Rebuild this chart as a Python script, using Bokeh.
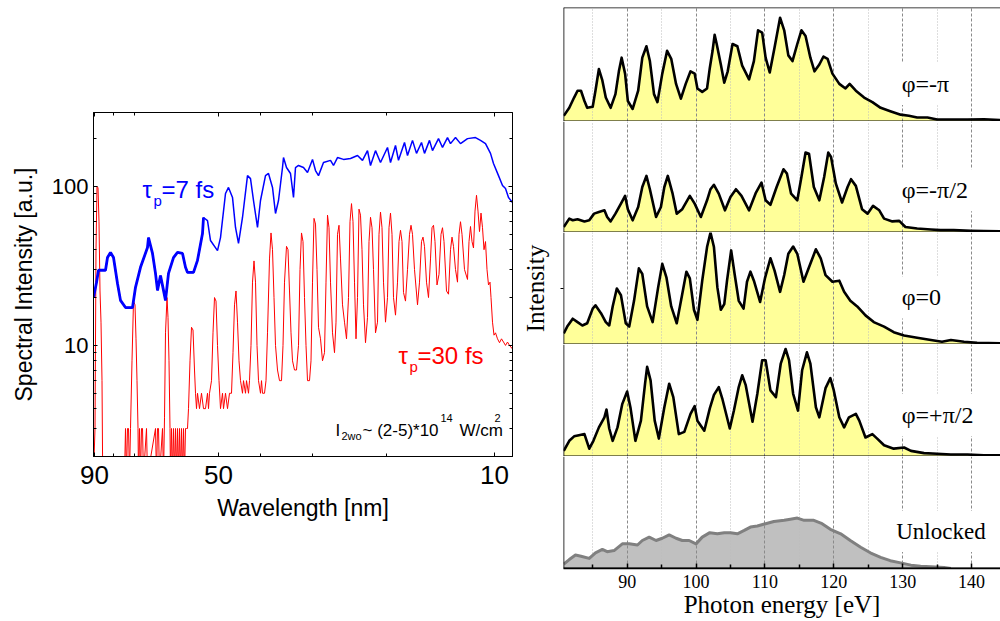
from bokeh.plotting import figure
from bokeh.layouts import row, column
from bokeh.models import Label, FixedTicker, LinearAxis, LogAxis, Range1d, Grid, Span
from bokeh.embed import file_html
from bokeh.resources import INLINE

# ---------------- left panel: harmonic spectra (spectrometer channel axis) ----------------
blue_ch = [0, 3, 5, 12, 14, 17, 20, 24, 27, 32,
           39, 42, 47, 54, 55, 59, 62, 64, 67, 70,
           72, 75, 80, 84, 89, 92, 94, 100, 104, 109,
           110, 114, 117, 124, 127, 132, 135, 139, 142, 145,
           149, 154, 157, 160, 164, 167, 172, 175, 179, 182,
           185, 189, 190, 193, 197, 200, 202, 205, 210, 214,
           219, 222, 225, 230, 237, 240, 244, 250, 257, 264,
           269, 274, 277, 282, 287, 294, 297, 302, 305, 311,
           314, 319, 323, 328, 331, 336, 339, 345, 349, 354,
           357, 362, 367, 374, 382, 387, 392, 397, 400, 405,
           409, 412, 415, 419]
blue_val = [20, 24.9, 29.7, 29.7, 35.7, 38.5, 35.7, 24.5, 19.2, 17.3,
            17.3, 23.2, 31, 41.3, 47.7, 37.9, 28.4, 22.2, 27.5, 22.2,
            19.2, 28.4, 35.7, 38.5, 37.9, 31, 28.8, 28.8, 34.3, 50.6,
            63.8, 61, 45.7, 39.5, 47.7, 90.3, 98.6, 85.3, 55.2, 43.8,
            63.8, 117, 112, 81.6, 55.2, 81.6, 117, 120.7, 98.6, 67.6,
            81.6, 131.6, 152, 131.6, 120.7, 85.3, 131.6, 135.5, 131.6, 122.5,
            148, 126, 117, 141.5, 146, 135.5, 152, 148, 150, 156.7,
            146, 168, 135.5, 168, 141.5, 176, 141.5, 181, 146, 189,
            156.7, 195, 161.5, 189, 161.5, 195, 168, 200, 176, 203,
            186, 203, 186, 200, 203, 195, 186, 161.5, 139.6, 117,
            101.5, 97, 85.3, 79.3]

red_ch = [0, 1.5, 2.5, 3.5, 4.5, 5.5, 6.5, 7.5, 8.5, 9.2,
          31, 32, 33, 34, 35, 36, 37, 38.5, 40, 41.5,
          42.5, 43.5, 44.5, 45, 46, 47, 48, 49, 50, 53,
          54, 62, 63, 64, 65, 66, 69, 70, 71, 72,
          73.5, 74.5, 75.5, 76.5, 77, 78, 79, 80, 81, 82,
          83, 84, 85, 86, 87, 88, 89, 90, 91, 92,
          93, 94, 95, 96.5, 98, 99.5, 101, 102, 103, 104,
          106, 108, 110, 112, 114, 115, 116, 118, 119.5, 121,
          122.5, 124, 125.5, 127, 129, 130, 132, 134, 136, 138,
          139.5, 141, 142.5, 144, 145.5, 147, 149, 150, 152, 153,
          155, 156, 157.5, 159, 160.5, 162, 163.5, 165, 167, 168,
          169, 171, 172.5, 174, 176, 177.5, 179, 180.5, 182, 184,
          186, 188, 189.5, 191, 193, 194.5, 196, 197.5, 199, 201,
          203, 205, 206.5, 208, 209.5, 211, 212.5, 214, 216, 217.5,
          219, 220.5, 222, 223.5, 225, 227, 229, 231, 232.5, 234,
          235.5, 237, 239, 241, 242.5, 244, 245.5, 247, 249, 251,
          253, 255, 256.5, 258, 259.5, 261, 262.5, 264, 265.5, 267,
          268.5, 270, 272, 274, 275.5, 277, 278.5, 280, 282, 284,
          285.5, 287, 288.5, 290, 292, 294, 295.5, 297, 298.5, 300,
          302, 304, 305.5, 307, 308.5, 310, 312, 314, 316, 317.5,
          319, 321, 324, 326, 328, 329.5, 331, 333, 335, 337,
          338.5, 340, 341.5, 343.5, 345.5, 347.5, 349, 350.5, 353, 355,
          357, 358.5, 360, 362, 364, 365.5, 367, 368.5, 371, 374,
          375.5, 377, 378.5, 380, 381.5, 383, 384.5, 386, 387.5, 389,
          390.5, 392, 393.5, 395, 396.5, 397.5, 399, 400.5, 402, 404,
          406, 408, 410, 412, 414, 416, 419]
red_val = [1.5, 3.0, 40, 100, 98, 60, 22, 14, 6, 1.5,
           1.5, 3, 1.5, 3, 3, 1.5, 3, 8, 19, 18,
           11, 6, 3, 1.5, 3, 1.5, 3, 3, 1.5, 3,
           1.5, 3, 1.5, 3, 3, 1.5, 3, 1.5, 3.5, 12,
           20, 15, 8, 3, 1.5, 3, 1.5, 3, 1.5, 3,
           1.5, 3, 1.5, 3, 1.5, 3, 1.5, 3, 1.5, 3,
           3, 3, 4, 8, 13, 12.5, 7, 5, 4, 5,
           4, 5, 4, 4, 5, 4, 5, 6, 12, 20,
           19, 10, 6, 4, 5, 4, 5, 4, 5, 5,
           9, 18, 22, 14, 8, 6, 5, 6, 5, 6,
           5, 6, 10, 25, 34, 25, 10, 6, 5, 6,
           5, 5, 6, 12, 35, 51, 40, 20, 10, 7,
           6, 6, 10, 25, 42, 40, 22, 12, 8, 7,
           7, 10, 30, 51, 45, 20, 10, 6, 6, 8,
           25, 63, 58, 30, 13, 11, 8, 9, 25, 66,
           55, 25, 12, 9, 14, 50, 57, 35, 18, 14,
           11, 20, 60, 78, 60, 25, 11, 20, 72, 66,
           40, 18, 10.4, 15, 45, 64, 55, 30, 12, 14,
           50, 69, 55, 25, 14, 20, 55, 68, 50, 20,
           15.5, 25, 45, 53, 45, 21.5, 19, 30, 50, 57,
           50, 30, 18, 25, 45, 48, 42, 25, 20, 35,
           55, 57, 45, 24, 28, 50, 55, 45, 22, 21,
           40, 48, 42, 30, 25, 50, 60, 50, 30, 26,
           45, 56, 45, 41, 70, 88, 70, 52, 68, 55,
           40, 45, 30, 24, 25, 20, 14, 11.6, 12, 11,
           10.4, 11, 10.5, 10, 10.5, 10, 9.5]

wl_tick_ch = [1, 125, 401]
wl_tick_labels = ["90", "50", "10"]
wl_minor_ch = [20, 41, 167, 219, 293]
int_ticks = [10, 100]
int_minor = [2, 3, 4, 5, 6, 7, 8, 9, 20, 30, 40, 50, 60, 70, 80, 90, 200]

SANS = "Liberation Sans"
SERIF = "Liberation Serif"

left = figure(width=517, height=621, y_axis_type="log",
              x_range=Range1d(0, 419), y_range=Range1d(2, 292),
              output_backend="svg", toolbar_location=None,
              min_border_left=93, min_border_right=5,
              min_border_top=112, min_border_bottom=165)
left.grid.visible = False
left.outline_line_color = "black"

xt = FixedTicker(ticks=wl_tick_ch, minor_ticks=wl_minor_ch)
yt = FixedTicker(ticks=int_ticks, minor_ticks=int_minor)


def style_axis(ax, size):
    ax.axis_line_color = "black"
    ax.axis_line_width = 1
    ax.major_tick_in = 4
    ax.major_tick_out = 0
    ax.minor_tick_in = 3
    ax.minor_tick_out = 0
    ax.major_tick_line_color = "black"
    ax.minor_tick_line_color = "black"
    ax.major_label_text_font = SANS
    ax.major_label_text_color = "black"
    ax.major_label_text_font_size = size
    ax.axis_label_text_color = "black"


xa = left.xaxis[0]
xa.ticker = xt
xa.major_label_overrides = {t: s for t, s in zip(wl_tick_ch, wl_tick_labels)}
style_axis(xa, "26px")
xa.major_label_standoff = 9
xa.axis_label = "Wavelength [nm]"
xa.axis_label_text_font = SANS
xa.axis_label_text_font_size = "23px"
xa.axis_label_text_font_style = "normal"
xa.axis_label_standoff = 8

ya = left.yaxis[0]
ya.ticker = yt
ya.major_label_overrides = {10: "10", 100: "100"}
style_axis(ya, "22px")
ya.major_label_standoff = 5
ya.axis_label = "Spectral Intensity [a.u.]"
ya.axis_label_text_font = SANS
ya.axis_label_text_font_size = "23px"
ya.axis_label_text_font_style = "normal"
ya.axis_label_standoff = 12

# mirrored tick marks on the top and right edges (no labels)
top_ax = LinearAxis(ticker=xt, major_label_overrides={t: " " for t in wl_tick_ch})
style_axis(top_ax, "1px")
top_ax.major_label_text_color = None
top_ax.major_label_standoff = 0
left.add_layout(top_ax, "above")
right_ax = LogAxis(ticker=yt, major_label_overrides={t: " " for t in int_ticks})
style_axis(right_ax, "1px")
right_ax.major_label_text_color = None
right_ax.major_label_standoff = 0
left.add_layout(right_ax, "right")

left.line(red_ch, red_val, line_color="#ff0000", line_width=1)
left.line(blue_ch, blue_val, line_color="#0000ff", line_width=1.5)
# the low-signal, noisy start of the short-pulse spectrum looks heavier
left.line(blue_ch[:31], blue_val[:31], line_color="#0000ff", line_width=2.8)


def txt(fig, x, y, s, color, size, font=SANS):
    fig.add_layout(Label(x=x, y=y, text=s, text_color=color, text_font=font,
                         text_font_size=size, text_baseline="alphabetic"))


txt(left, 49, 95.8, "τ", "#0000ff", "24px")
txt(left, 60, 81.6, "p", "#0000ff", "15px")
txt(left, 68, 95.8, "=7 fs", "#0000ff", "24px")
txt(left, 305, 8.65, "τ", "#ff0000", "24px")
txt(left, 316, 7.38, "p", "#ff0000", "15px")
txt(left, 324, 8.65, "=30 fs", "#ff0000", "24px")
txt(left, 242, 2.92, "I", "black", "17px")
txt(left, 248, 2.68, "2wo", "black", "11px")
txt(left, 269, 2.92, "~ (2-5)*10", "black", "17px")
txt(left, 347, 3.47, "14", "black", "11px")
txt(left, 366, 2.92, "W/cm", "black", "17px")
txt(left, 401, 3.47, "2", "black", "11px")

# ---------------- right panels: photon-energy spectra vs. CEP ----------------
ev_phi_m_pi = [80.8, 81.6, 82.3, 82.8, 83.3, 83.8, 84.2, 85.0, 85.4, 85.9, 86.4, 86.9, 87.6, 88.3,
               88.8, 89.2, 89.7, 90.1, 90.8, 91.6, 92.2, 92.8, 93.3, 93.9, 94.4, 95.1, 95.8, 96.4,
               97.1, 97.8, 98.5, 99.2, 99.8, 100.2, 100.9, 101.6, 102.0, 102.4, 102.7, 103.0, 103.6,
               104.1, 104.6, 105.3, 106.0, 106.7, 107.7, 108.4, 109.0, 109.6, 110.1, 110.7, 111.4,
               112.2, 112.8, 113.4, 114.0, 114.7, 115.3, 115.9, 116.6, 117.2, 117.9, 118.5, 119.1,
               119.8, 120.8, 121.7, 122.3, 123.2, 124.4, 125.6, 126.8, 128.2, 129.7, 130.9, 132.1,
               133.6, 135.0, 137.0, 139.4, 141.8, 144.2]
int_phi_m_pi = [0.05, 0.12, 0.21, 0.27, 0.27, 0.18, 0.12, 0.13, 0.27, 0.46, 0.36, 0.21, 0.12, 0.24,
                0.44, 0.56, 0.42, 0.18, 0.11, 0.27, 0.56, 0.66, 0.53, 0.24, 0.17, 0.42, 0.62, 0.55,
                0.33, 0.20, 0.33, 0.44, 0.42, 0.29, 0.26, 0.29, 0.47, 0.62, 0.76, 0.68, 0.50,
                0.34, 0.44, 0.68, 0.66, 0.49, 0.37, 0.53, 0.80, 0.78, 0.56, 0.43, 0.65,
                0.91, 0.80, 0.58, 0.53, 0.68, 0.80, 0.75, 0.56, 0.44, 0.50, 0.57, 0.55,
                0.42, 0.33, 0.29, 0.33, 0.27, 0.21, 0.17, 0.12, 0.09, 0.06, 0.05, 0.035,
                0.035, 0.018, 0.018, 0.018, 0.02, 0.012]

ev_phi_m_half = [80.8, 81.6, 82.1, 82.8, 83.8, 84.5, 85.2, 85.9, 86.7, 87.1, 87.6, 88.3, 89.1, 89.7,
                 90.1, 90.8, 91.6, 92.2, 92.8, 93.3, 94.2, 94.9, 95.4, 95.9, 96.6, 97.2, 98.0, 99.1,
                 99.8, 100.7, 101.6, 102.1, 102.6, 103.3, 104.2, 105.0, 105.8, 106.6, 107.7, 108.7,
                 109.5, 110.1, 110.8, 111.7, 112.7, 113.2, 113.8, 114.7, 115.3, 115.9, 116.4, 117.1,
                 117.9, 118.6, 119.2, 119.6, 120.3, 121.2, 122.0, 122.5, 123.2, 124.1, 124.9, 125.7,
                 126.6, 127.3, 128.5, 129.5, 130.4, 132.1, 134.1, 135.5, 137.4, 139.9, 141.8, 144.2]
int_phi_m_half = [0.05, 0.125, 0.11, 0.12, 0.10, 0.11, 0.17, 0.185, 0.20, 0.14, 0.10, 0.17, 0.26, 0.33,
                  0.21, 0.11, 0.23, 0.41, 0.51, 0.39, 0.14, 0.23, 0.41, 0.51, 0.35, 0.17, 0.21, 0.33,
                  0.26, 0.14, 0.29, 0.39, 0.43, 0.35, 0.20, 0.32, 0.39, 0.33, 0.20, 0.36,
                  0.45, 0.29, 0.25, 0.41, 0.57, 0.53, 0.35, 0.29, 0.50, 0.72, 0.71, 0.41,
                  0.29, 0.50, 0.72, 0.68, 0.44, 0.27, 0.41, 0.48, 0.42, 0.21, 0.17, 0.24,
                  0.20, 0.125, 0.10, 0.105, 0.05, 0.036, 0.027, 0.021, 0.021, 0.015, 0.012, 0.01]

ev_phi_zero = [80.8, 81.3, 82.1, 82.8, 83.5, 84.2, 85.0, 85.4, 86.2, 86.9, 87.4, 87.9, 88.5, 89.1,
               89.8, 90.3, 91.0, 91.7, 92.2, 92.9, 93.7, 94.5, 95.1, 95.7, 96.4, 97.2, 98.0, 98.6,
               99.1, 99.7, 100.2, 100.9, 101.6, 102.1, 102.6, 103.1, 103.6, 104.1, 104.5, 105.1,
               105.6, 106.2, 106.9, 107.4, 107.9, 108.4, 109.3, 110.0, 110.8, 111.4, 112.2, 112.8,
               113.4, 114.1, 114.7, 115.6, 116.4, 117.4, 118.1, 118.8, 119.8, 120.8, 121.5, 122.4,
               123.4, 124.6, 125.8, 127.3, 128.7, 130.2, 132.1, 134.1, 135.7, 137.0, 138.9, 140.8,
               144.2]
int_phi_zero = [0.10, 0.16, 0.23, 0.20, 0.17, 0.19, 0.32, 0.35, 0.28, 0.20, 0.17, 0.34, 0.50, 0.44,
                0.19, 0.16, 0.39, 0.68, 0.63, 0.34, 0.20, 0.51, 0.72, 0.60, 0.34, 0.19, 0.45, 0.65,
                0.59, 0.31, 0.22, 0.57, 0.87, 1.0, 0.87, 0.51, 0.31, 0.36, 0.57, 0.84,
                0.63, 0.39, 0.32, 0.56, 0.65, 0.57, 0.38, 0.59, 0.77, 0.66, 0.47, 0.62,
                0.81, 0.875, 0.81, 0.56, 0.69, 0.85, 0.77, 0.62, 0.56, 0.57, 0.47, 0.39,
                0.34, 0.26, 0.20, 0.16, 0.11, 0.08, 0.06, 0.04, 0.024, 0.04, 0.024, 0.015,
                0.01]

ev_phi_p_half = [80.8, 81.6, 82.3, 83.0, 83.8, 84.5, 85.1, 85.9, 86.7, 87.0, 87.4, 87.9, 88.6, 89.3,
                 90.0, 90.5, 91.2, 92.0, 92.6, 92.9, 93.4, 94.0, 94.6, 95.4, 96.1, 96.7, 97.5, 98.3,
                 99.2, 99.8, 100.2, 101.2, 102.0, 102.6, 103.3, 103.8, 104.9, 105.5, 106.2, 106.7,
                 107.2, 108.2, 108.9, 109.6, 110.1, 110.8, 111.6, 112.3, 113.0, 113.5, 114.1, 114.8,
                 115.4, 116.1, 116.6, 117.4, 117.9, 118.8, 119.5, 120.0, 120.8, 121.5, 122.2, 123.2,
                 123.7, 124.6, 125.6, 126.3, 127.3, 128.7, 130.2, 131.2, 133.1, 135.0, 137.0, 139.4,
                 141.8, 144.2]
int_phi_p_half = [0.05, 0.14, 0.18, 0.19, 0.20, 0.07, 0.14, 0.26, 0.35, 0.42, 0.25, 0.14, 0.26, 0.47,
                  0.58, 0.43, 0.14, 0.32, 0.65, 0.80, 0.68, 0.32, 0.16, 0.44, 0.65, 0.53, 0.20, 0.22,
                  0.38, 0.45, 0.32, 0.23, 0.43, 0.55, 0.62, 0.52, 0.25, 0.41, 0.62, 0.725,
                  0.64, 0.31, 0.56, 0.86, 0.86, 0.59, 0.53, 0.83, 0.96, 0.86, 0.56, 0.41,
                  0.77, 0.93, 0.83, 0.44, 0.35, 0.61, 0.70, 0.59, 0.35, 0.26, 0.35, 0.38,
                  0.32, 0.17, 0.20, 0.16, 0.10, 0.07, 0.08, 0.05, 0.03, 0.024, 0.018, 0.018,
                  0.01, 0.01]

ev_unlocked = [80.8, 81.6, 82.5, 83.3, 84.5, 85.4, 86.4, 87.1, 88.1, 89.3, 90.3, 91.5, 92.2, 93.2,
               94.2, 95.1, 96.1, 97.1, 98.0, 99.0, 100.0, 100.9, 102.0, 103.1, 104.1, 105.0, 106.0,
               107.0, 107.9, 108.9, 110.1, 111.3, 112.8, 113.7, 114.7, 115.7, 117.1, 118.3, 119.5,
               121.0, 122.4, 123.9, 125.3, 126.8, 128.2, 129.7, 131.2, 132.6, 134.1, 136.0, 137.0]
int_unlocked = [0.04, 0.08, 0.12, 0.11, 0.09, 0.14, 0.17, 0.15, 0.16, 0.22, 0.22, 0.21, 0.25, 0.28,
                0.25, 0.27, 0.30, 0.27, 0.25, 0.25, 0.22, 0.28, 0.32, 0.31, 0.32, 0.32, 0.31,
                0.34, 0.37, 0.38, 0.40, 0.42, 0.43, 0.44, 0.45, 0.43, 0.43, 0.40, 0.35,
                0.31, 0.25, 0.19, 0.14, 0.10, 0.07, 0.05, 0.03, 0.02, 0.015, 0.01, 0.0]

panel_labels = ["φ=-π", "φ=-π/2", "φ=0", "φ=+π/2", "Unlocked"]
ev_major = [90, 100, 110, 120, 130, 140]
ev_minor = [85, 95, 105, 115, 125, 135]

EV_START, EV_END = 80.76, 144.2
ev_range = Range1d(EV_START, EV_END)


def panel(height, top, bottom, with_xaxis=False, ylabel=None, top_edge=False):
    p = figure(width=483, height=height, x_range=ev_range, y_range=Range1d(0, 1),
               output_backend="svg", toolbar_location=None,
               x_axis_location="below" if with_xaxis else None,
               y_axis_location="left" if ylabel else None,
               min_border_left=46, min_border_right=0,
               min_border_top=top, min_border_bottom=bottom)
    p.xgrid.grid_line_color = None
    p.ygrid.grid_line_color = None
    # frame edges: left, bottom (and top for the first panel); the right edge runs off the page
    p.outline_line_color = None
    p.add_layout(Span(location=EV_START, dimension="height", line_color="black", line_width=1.6))
    p.add_layout(Span(location=0, dimension="width", line_color="black", line_width=1.8))
    if top_edge:
        p.add_layout(Span(location=1, dimension="width", line_color="black", line_width=1.6))
    p.add_layout(Grid(dimension=0, ticker=FixedTicker(ticks=ev_major),
                      grid_line_color="#8a8a8a", grid_line_dash="3 2", grid_line_width=1))
    p.add_layout(Grid(dimension=0, ticker=FixedTicker(ticks=ev_minor),
                      grid_line_color="#bdbdbd", grid_line_dash="1 2", grid_line_width=1))
    if ylabel:
        ax = p.yaxis[0]
        ax.ticker = FixedTicker(ticks=[0.5])
        ax.major_label_overrides = {0.5: " "}
        ax.axis_line_color = None
        ax.major_tick_in = 0
        ax.major_tick_out = 3
        ax.major_tick_line_color = "black"
        ax.minor_tick_line_color = None
        ax.major_label_text_font_size = "1px"
        ax.major_label_text_color = None
        ax.major_label_standoff = 0
        ax.axis_label = ylabel
        ax.axis_label_text_font = SERIF
        ax.axis_label_text_font_size = "25px"
        ax.axis_label_text_font_style = "normal"
        ax.axis_label_text_color = "black"
        ax.axis_label_standoff = 12
    if with_xaxis:
        ax = p.xaxis[0]
        ax.ticker = FixedTicker(ticks=ev_major, minor_ticks=ev_minor)
        ax.axis_line_color = "black"
        ax.axis_line_width = 1.6
        ax.major_tick_in = 5
        ax.major_tick_out = 0
        ax.minor_tick_in = 4
        ax.minor_tick_out = 0
        ax.major_tick_line_width = 1.5
        ax.minor_tick_line_width = 1.5
        ax.major_tick_line_color = "black"
        ax.minor_tick_line_color = "black"
        ax.major_label_text_font = SERIF
        ax.major_label_text_font_size = "18px"
        ax.major_label_text_color = "black"
        ax.major_label_standoff = 6
        ax.axis_label = "Photon energy [eV]"
        ax.axis_label_text_font = SERIF
        ax.axis_label_text_font_size = "25px"
        ax.axis_label_text_font_style = "normal"
        ax.axis_label_text_color = "black"
        ax.axis_label_standoff = 0
    return p


def label(p, x, y, s, size):
    p.add_layout(Label(x=x, y=y, text=s, text_font=SERIF, text_font_size=size,
                       text_color="black", text_baseline="middle", text_align="left",
                       background_fill_color="white", padding=8, level="underlay"))


curves = [(ev_phi_m_pi, int_phi_m_pi), (ev_phi_m_half, int_phi_m_half),
          (ev_phi_zero, int_phi_zero), (ev_phi_p_half, int_phi_p_half)]
heights = [121, 111, 112, 112]
tops = [7, 0, 0, 0]
label_y = [0.33, 0.38, 0.42, 0.37]
panels = []
for i, ((ev, inten), h, t, ly) in enumerate(zip(curves, heights, tops, label_y)):
    p = panel(h, t, 0, ylabel="Intensity" if i == 2 else None, top_edge=(i == 0))
    p.varea(ev, y1=0, y2=inten, fill_color="#ffff99", level="image")
    p.line(ev, inten, line_color="black", line_width=2.6, line_join="round")
    label(p, 128.7, ly, panel_labels[i], "24px")
    panels.append(p)

p5 = panel(165, 0, 53, with_xaxis=True)
p5.varea(ev_unlocked, y1=0, y2=int_unlocked, fill_color="#c0c0c0", level="image")
p5.line(ev_unlocked, int_unlocked, line_color="#808080", line_width=3, line_join="round")
label(p5, 127.9, 0.33, panel_labels[4], "23px")
panels.append(p5)

layout = row(left, column(*panels, spacing=0), spacing=0)

with open("out.html", "w") as f:
    f.write(file_html(layout, INLINE))
